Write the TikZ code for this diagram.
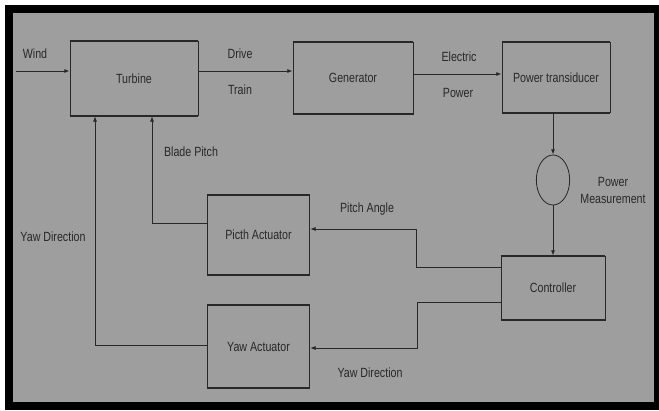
\documentclass[tikz,border=0pt]{standalone}
\usepackage{fontspec}
\setmainfont{Liberation Sans}[FakeStretch=0.8]
\usetikzlibrary{shapes.geometric}
\usetikzlibrary{arrows.meta}
\definecolor{panelgrey}{RGB}{158,158,158}
\definecolor{inkgrey}{RGB}{40,40,40}
\begin{document}
\begin{tikzpicture}[x=0.75pt,y=-0.75pt]
\tikzstyle blockbox=[draw=inkgrey, line width=0.6pt, text=inkgrey, font=\fontsize{10}{12}\selectfont, inner sep=0pt]
\tikzstyle labeltext=[text=inkgrey, font=\fontsize{10}{12}\selectfont, inner sep=0pt, align=center]
\tikzstyle arrowline=[draw=inkgrey, line width=0.6pt, -{Latex[length=4pt,width=3pt]}]
\useasboundingbox (0,0) rectangle (659,410);
\fill[black] (5,5) rectangle (659,410);
\fill[panelgrey] (13,13) rectangle (654,402);
% blocks
\node[blockbox, minimum width=96pt, minimum height=56pt] (turbine) at (134,78.5) {Turbine};
\node[blockbox, minimum width=90pt, minimum height=54pt] (generator) at (353,78) {Generator};
\node[blockbox, minimum width=81pt, minimum height=53pt] (transducer) at (556,77.5) {Power transiducer};
\node[blockbox, minimum width=78pt, minimum height=48pt] (controller) at (553,288) {Controller};
\node[blockbox, minimum width=77pt, minimum height=60pt] (pitch) at (258.5,235) {Picth Actuator};
\node[blockbox, minimum width=77pt, minimum height=61pt] (yaw) at (258.5,346.5) {Yaw Actuator};
\node[draw=inkgrey, ellipse, line width=0.6pt, minimum width=25pt, minimum height=37.5pt, inner sep=0pt] (meas) at (553,180) {};
\foreach \b in {turbine,generator,transducer,controller,pitch,yaw}
  \draw[inkgrey, line width=1.5pt] (\b.north west) -- (\b.north east) (\b.south west) -- (\b.south east);
% connectors
\coordinate (windin) at (16,71);
\draw[arrowline] (windin) -- (windin -| turbine.west);
\draw[arrowline] (turbine.east |- windin) -- (generator.west |- windin);
\draw[arrowline] ([yshift=3pt]generator.east) -- ([yshift=3pt]generator.east -| transducer.west);
\draw[arrowline] (meas.north |- transducer.south) -- (meas.north);
\draw[arrowline] (meas.south) -- (meas.south |- controller.north);
\coordinate (pitchbend) at (416,229);
\draw[arrowline] ([yshift=15.75pt]controller.west) -| (pitchbend) -- (pitchbend -| pitch.east);
\coordinate (yawbend) at (417,348);
\draw[arrowline] ([yshift=-10.5pt]controller.west) -| (yawbend) -- (yawbend -| yaw.east);
\coordinate (bladebend) at (152,223);
\draw[arrowline] (bladebend -| pitch.west) -- (bladebend) -- (bladebend |- turbine.south);
\coordinate (yawback) at (95,345);
\draw[arrowline] (yawback -| yaw.west) -- (yawback) -- (yawback |- turbine.south);
% labels
\node[labeltext] (windlbl) at (35,54) {Wind};
\node[labeltext] (drivelbl) at (240,54) {Drive};
\node[labeltext] (trainlbl) at (240,90) {Train};
\node[labeltext] (eleclbl) at (459,57) {Electric};
\node[labeltext] (powerlbl) at (458,93) {Power};
\node[labeltext] (bladelbl) at (191,152) {Blade Pitch};
\node[labeltext] (yawlbl) at (53,237) {Yaw Direction};
\node[labeltext] (anglelbl) at (367,209) {Pitch Angle};
\node[labeltext] (yawcmdlbl) at (370,373) {Yaw Direction};
\node[labeltext] (measlbl) at (613,190) {Power\\[0.75pt]Measurement};
\end{tikzpicture}
\end{document}
